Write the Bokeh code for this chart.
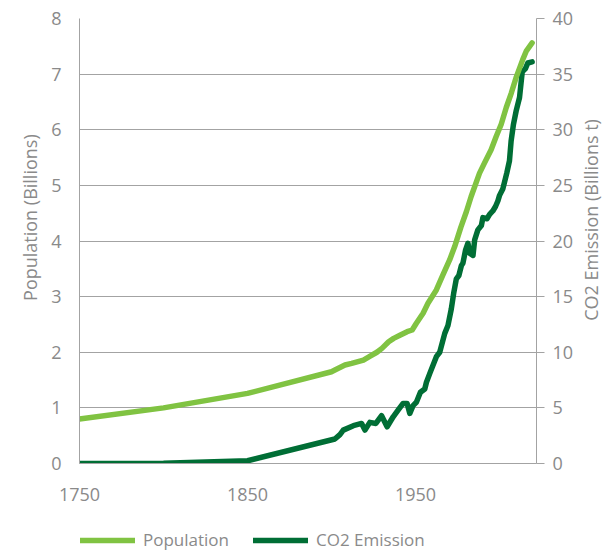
import math
from bokeh.plotting import figure
from bokeh.layouts import column, row
from bokeh.models import (Range1d, LinearAxis, FixedTicker, Legend, LegendItem, Title)
from bokeh.embed import file_html
from bokeh.resources import INLINE

# ---- data ----
pop_years = [1750, 1800, 1850, 1900, 1902, 1908, 1912, 1919, 1923, 1927, 1930, 1934,
             1937, 1941, 1945, 1948, 1950.5, 1954.5, 1957.4, 1962.4, 1966.3, 1970.3,
             1973.3, 1977, 1980.3, 1983.1, 1988.1, 1991, 1995, 1998, 2001, 2004, 2007,
             2010, 2013.8, 2016, 2019.4]
pop_values = [0.80, 1.00, 1.26, 1.65, 1.68, 1.77, 1.80, 1.86, 1.93, 2.00, 2.07, 2.19,
              2.25, 2.31, 2.37, 2.40, 2.52, 2.70, 2.88, 3.12, 3.39, 3.66,
              3.90, 4.25, 4.53, 4.80, 5.22, 5.40, 5.64, 5.88, 6.10, 6.40, 6.66,
              6.95, 7.26, 7.42, 7.56]

co2_years = [1750, 1800, 1850, 1902, 1905, 1907, 1913, 1917.9, 1919.9, 1922.8, 1926.4,
             1929.8, 1933.1, 1936.7, 1939.6, 1942.6, 1945, 1946.6, 1948.5, 1950.5, 1952.9,
             1955.5, 1956.5, 1958.5, 1962.4, 1964.4, 1967.4, 1969.3, 1971.3, 1972.7, 1974.3,
             1975.8, 1977.3, 1978.2, 1979.8, 1981.2, 1982.2, 1984.2, 1985.2, 1987.1, 1989.2,
             1990.1, 1992.5, 1994.1, 1996.0, 1997.6, 1999, 2000, 2002, 2004.3, 2005.9,
             2006.9, 2008.3, 2009.9, 2011.9, 2013.5, 2015.4, 2016.8, 2019.4]
co2_values = [0.0, 0.03, 0.25, 2.2, 2.6, 3.0, 3.4, 3.6, 3.0, 3.7, 3.6,
              4.3, 3.3, 4.2, 4.8, 5.4, 5.4, 4.5, 5.2, 5.5, 6.4,
              6.7, 7.3, 8.1, 9.6, 10.0, 11.7, 12.4, 13.9, 15.3, 16.6,
              16.9, 17.8, 18.0, 19.2, 19.8, 18.9, 18.7, 20.1, 21.0, 21.4,
              22.1, 22.0, 22.4, 22.7, 23.1, 23.6, 24.1, 24.7, 26.1, 27.2,
              29.0, 30.5, 31.7, 32.9, 35.2, 35.5, 36.0, 36.1]

x_ticks = [1750, 1850, 1950]
pop_ticks = [0, 1, 2, 3, 4, 5, 6, 7, 8]
co2_ticks = [0, 5, 10, 15, 20, 25, 30, 35, 40]

POP_COLOR = "#80c342"
CO2_COLOR = "#006e35"
GRID = "#a3a3a3"
TEXT = "#8a8a8a"
FONT = "Open Sans"
NB = "\u00a0"

# ---------------- main chart ----------------
p = figure(width=576, height=513, output_backend="svg", toolbar_location=None,
           x_range=Range1d(1750, 2022), y_range=Range1d(0, 8),
           min_border_left=79, min_border_right=39, min_border_top=18, min_border_bottom=50)
p.outline_line_color = None
p.background_fill_color = "white"
p.border_fill_color = "white"
p.extra_y_ranges = {"co2": Range1d(0, 40)}

p.xgrid.visible = False
p.ygrid.ticker = FixedTicker(ticks=pop_ticks)
p.ygrid.grid_line_color = GRID
p.ygrid.grid_line_width = 1

ya = p.yaxis[0]
ya.ticker = FixedTicker(ticks=pop_ticks)
ya.axis_line_color = GRID
ya.major_tick_line_color = None
ya.minor_tick_line_color = None
ya.major_label_standoff = 12
ya.major_label_text_font = FONT
ya.major_label_text_font_size = "18px"
ya.major_label_text_color = TEXT
ya.axis_label = NB * 10 + "Population (Billions)"
ya.axis_label_standoff = 6
ya.axis_label_text_font = FONT
ya.axis_label_text_font_size = "18px"
ya.axis_label_text_font_style = "normal"
ya.axis_label_text_color = TEXT

xa = p.xaxis[0]
xa.ticker = FixedTicker(ticks=x_ticks)
xa.axis_line_color = GRID
xa.major_tick_line_color = None
xa.minor_tick_line_color = None
xa.major_label_standoff = 18
xa.major_label_text_font = FONT
xa.major_label_text_font_size = "18px"
xa.major_label_text_color = TEXT

ra = LinearAxis(y_range_name="co2", ticker=FixedTicker(ticks=co2_ticks))
ra.axis_line_color = GRID
ra.major_tick_line_color = GRID
ra.major_tick_in = 0
ra.major_tick_out = 8
ra.minor_tick_line_color = None
ra.major_label_standoff = 8
ra.major_label_text_font = FONT
ra.major_label_text_font_size = "18px"
ra.major_label_text_color = TEXT
p.add_layout(ra, "right")

r_co2 = p.line(co2_years, co2_values, y_range_name="co2", line_color=CO2_COLOR,
               line_width=5.5, line_cap="round", line_join="round")
r_pop = p.line(pop_years, pop_values, line_color=POP_COLOR,
               line_width=5.5, line_cap="round", line_join="round")

# ---------------- right axis title (reads bottom to top) ----------------
side = figure(width=35, height=513, output_backend="svg", toolbar_location=None,
              x_range=Range1d(0, 1), y_range=Range1d(0, 1),
              x_axis_type=None, y_axis_type=None,
              min_border_left=0, min_border_right=0, min_border_top=18, min_border_bottom=50)
side.outline_line_color = None
side.grid.visible = False
side.add_layout(Title(text=NB * 9 + "CO2 Emission (Billions t)", align="center",
                      text_font=FONT, text_font_size="18px", text_font_style="normal",
                      text_color=TEXT, standoff=0, offset=0), "left")

# ---------------- legend strip ----------------
leg = figure(width=611, height=38, output_backend="svg", toolbar_location=None,
             x_range=Range1d(0, 1), y_range=Range1d(0, 1),
             x_axis_type=None, y_axis_type=None,
             min_border_left=0, min_border_right=0, min_border_top=0, min_border_bottom=0)
leg.outline_line_color = None
leg.grid.visible = False
# legend swatches: same series, styled like the chart lines (out of this strip's view)
k_pop = leg.line(pop_years, pop_values, line_color=POP_COLOR, line_width=5.5, line_cap="round")
k_co2 = leg.line(co2_years, co2_values, line_color=CO2_COLOR, line_width=5.5, line_cap="round")
legend = Legend(items=[LegendItem(label="Population", renderers=[k_pop]),
                       LegendItem(label="CO2 Emission", renderers=[k_co2])],
                orientation="horizontal", location=(80, 0),
                padding=0, margin=0, spacing=24, label_standoff=8,
                glyph_width=55, glyph_height=20, label_height=20,
                border_line_color=None, background_fill_alpha=0,
                label_text_font=FONT, label_text_font_size="17px",
                label_text_color=TEXT)
leg.add_layout(legend)

layout = column(row(p, side, spacing=0), leg, spacing=0)
open("out.html", "w").write(file_html(layout, INLINE))
